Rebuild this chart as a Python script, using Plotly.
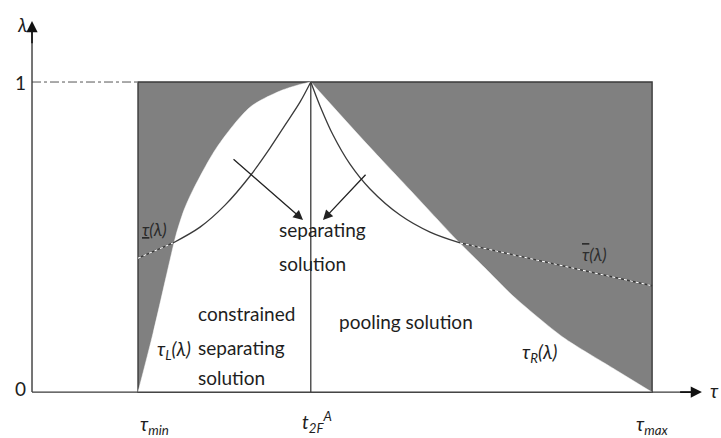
import plotly.graph_objects as go

# Key positions on the tau axis and the lambda axis
TAU_MIN = 1.0
T_2F = 2.63
TAU_MAX = 5.85
LAMBDA_TOP = 1.0

# Boundary tau_L(lambda): lower-left edge of the white (solution) region
tauL_tau = [1.000, 1.142, 1.302, 1.358, 1.434, 1.519, 1.745, 2.057, 2.340, 2.528, 2.630]
tauL_lam = [0.000, 0.190, 0.426, 0.506, 0.587, 0.652, 0.790, 0.919, 0.971, 0.992, 1.000]

# Boundary tau_R(lambda): lower-right edge of the white region
tauR_tau = [5.849, 5.481, 5.009, 4.538, 4.274, 4.009, 3.566, 3.160, 2.630]
tauR_lam = [0.000, 0.077, 0.177, 0.310, 0.400, 0.490, 0.652, 0.800, 1.000]

# Lower threshold curve (underlined tau): solid part, then dashed extension
tlow_tau = [1.330, 1.585, 1.821, 2.057, 2.245, 2.387, 2.528, 2.630]
tlow_lam = [0.481, 0.532, 0.603, 0.697, 0.787, 0.861, 0.935, 1.000]
tlow_ext_tau = [1.000, 1.330]
tlow_ext_lam = [0.432, 0.481]

# Upper threshold curve (overlined tau): solid part, then dashed extension
thigh_tau = [2.630, 2.717, 2.840, 3.000, 3.189, 3.472, 3.755, 4.038]
thigh_lam = [1.000, 0.923, 0.829, 0.735, 0.655, 0.571, 0.516, 0.481]
thigh_ext_tau = [4.038, 5.850]
thigh_ext_lam = [0.481, 0.343]

# Direction arrows pointing at the separating-solution label (tail, head)
arrows = [((1.887, 0.755), (2.557, 0.555)),
          ((3.160, 0.706), (2.745, 0.555))]

GRAY = "#808080"
LINE = "#3a3a3a"
TEXT = "#1e1e1e"
FONT = "Lato"

fig = go.Figure()

# White region between tau_L and tau_R (filled horizontally)
fig.add_trace(go.Scatter(x=tauR_tau, y=tauR_lam, mode="lines",
                         line=dict(color="white", width=0.5, shape="spline", smoothing=0.7),
                         hoverinfo="skip"))
fig.add_trace(go.Scatter(x=tauL_tau, y=tauL_lam, mode="lines",
                         line=dict(color="white", width=0.5, shape="spline", smoothing=0.8),
                         fill="tonextx", fillcolor="white", hoverinfo="skip"))

# t_2F vertical line
fig.add_trace(go.Scatter(x=[T_2F, T_2F], y=[0, LAMBDA_TOP], mode="lines",
                         line=dict(color=LINE, width=1.3), hoverinfo="skip"))

# Threshold curves
for xs, ys in [(tlow_tau, tlow_lam), (thigh_tau, thigh_lam)]:
    fig.add_trace(go.Scatter(x=xs, y=ys, mode="lines",
                             line=dict(color=LINE, width=1.3, shape="spline", smoothing=0.9),
                             hoverinfo="skip"))
for xs, ys in [(tlow_ext_tau, tlow_ext_lam), (thigh_ext_tau, thigh_ext_lam)]:
    fig.add_trace(go.Scatter(x=xs, y=ys, mode="lines",
                             line=dict(color=LINE, width=1.3), hoverinfo="skip"))
    fig.add_trace(go.Scatter(x=xs, y=ys, mode="lines",
                             line=dict(color="white", width=1.1, dash="3px,3px"),
                             hoverinfo="skip"))

# Dash-dot guide at lambda = 1
fig.add_trace(go.Scatter(x=[0, TAU_MIN], y=[LAMBDA_TOP, LAMBDA_TOP], mode="lines",
                         line=dict(color="#555555", width=1, dash="dashdot"),
                         hoverinfo="skip"))

# Axis lines
fig.add_trace(go.Scatter(x=[0, 6.3], y=[0, 0], mode="lines",
                         line=dict(color=LINE, width=1.4), hoverinfo="skip"))
fig.add_trace(go.Scatter(x=[0, 0], y=[0, 1.18], mode="lines",
                         line=dict(color=LINE, width=1.4), hoverinfo="skip"))

# Gray region (rectangle under everything)
fig.add_shape(type="rect", x0=TAU_MIN, x1=TAU_MAX, y0=0, y1=LAMBDA_TOP,
              fillcolor=GRAY, line=dict(color=LINE, width=1.4), layer="below")

anns = []
# Axis arrowheads
anns.append(dict(x=6.32, y=0, ax=6.1, ay=0, xref="x", yref="y", axref="x", ayref="y",
                 showarrow=True, arrowhead=2, arrowsize=1.4, arrowwidth=1.6,
                 arrowcolor="#111111", text=""))
anns.append(dict(x=0, y=1.197, ax=0, ay=1.12, xref="x", yref="y", axref="x", ayref="y",
                 showarrow=True, arrowhead=2, arrowsize=1.4, arrowwidth=1.6,
                 arrowcolor="#111111", text=""))
for (tx, ty), (hx, hy) in arrows:
    anns.append(dict(x=hx, y=hy, ax=tx, ay=ty, xref="x", yref="y", axref="x", ayref="y",
                     showarrow=True, arrowhead=2, arrowsize=1.5, arrowwidth=1.3,
                     arrowcolor="#222222", text=""))


def label(x, y, text, size=19, xanchor="left", color=TEXT):
    anns.append(dict(x=x, y=y, xref="x", yref="y", text=text, showarrow=False,
                     xanchor=xanchor, yanchor="middle",
                     font=dict(family=FONT, size=size, color=color)))


# Axis labels and ticks
label(-0.094, 1.184, "<i>λ</i>", xanchor="center")
label(-0.104, 1.0, "1", xanchor="center")
label(-0.113, 0.013, "0", xanchor="center")
label(6.44, 0.006, "<i>τ</i>", xanchor="center")
label(TAU_MIN, -0.105, "<i>τ<sub>min</sub></i>")
label(2.53, -0.095, "<i>t<sub>2F</sub><sup>A</sup></i>")
label(TAU_MAX, -0.105, "<i>τ<sub>max</sub></i>", xanchor="center")

# Region labels
label(2.31, 0.523, "separating")
label(2.31, 0.416, "solution")
label(1.547, 0.255, "constrained")
label(1.547, 0.145, "separating")
label(1.547, 0.048, "solution")
label(2.88, 0.229, "pooling solution")

# Curve labels
label(1.16, 0.135, "<i>τ<sub>L</sub>(λ)</i>")
label(4.60, 0.126, "<i>τ<sub>R</sub>(λ)</i>")
label(1.02, 0.523, "<i><u>τ</u>(λ)</i>", size=17, color="#2a2a2a")
label(5.17, 0.445, "<i><span style=\"text-decoration:overline\">τ</span>(λ)</i>",
      size=17, color="#2e2e2e")

fig.update_layout(
    width=721, height=438,
    margin=dict(l=0, r=0, t=0, b=0),
    paper_bgcolor="white", plot_bgcolor="white",
    showlegend=False,
    xaxis=dict(range=[-0.302, 6.5], visible=False, fixedrange=True),
    yaxis=dict(range=[-0.148, 1.2645], visible=False, fixedrange=True),
    annotations=anns,
)

fig.write_html("out.html")
